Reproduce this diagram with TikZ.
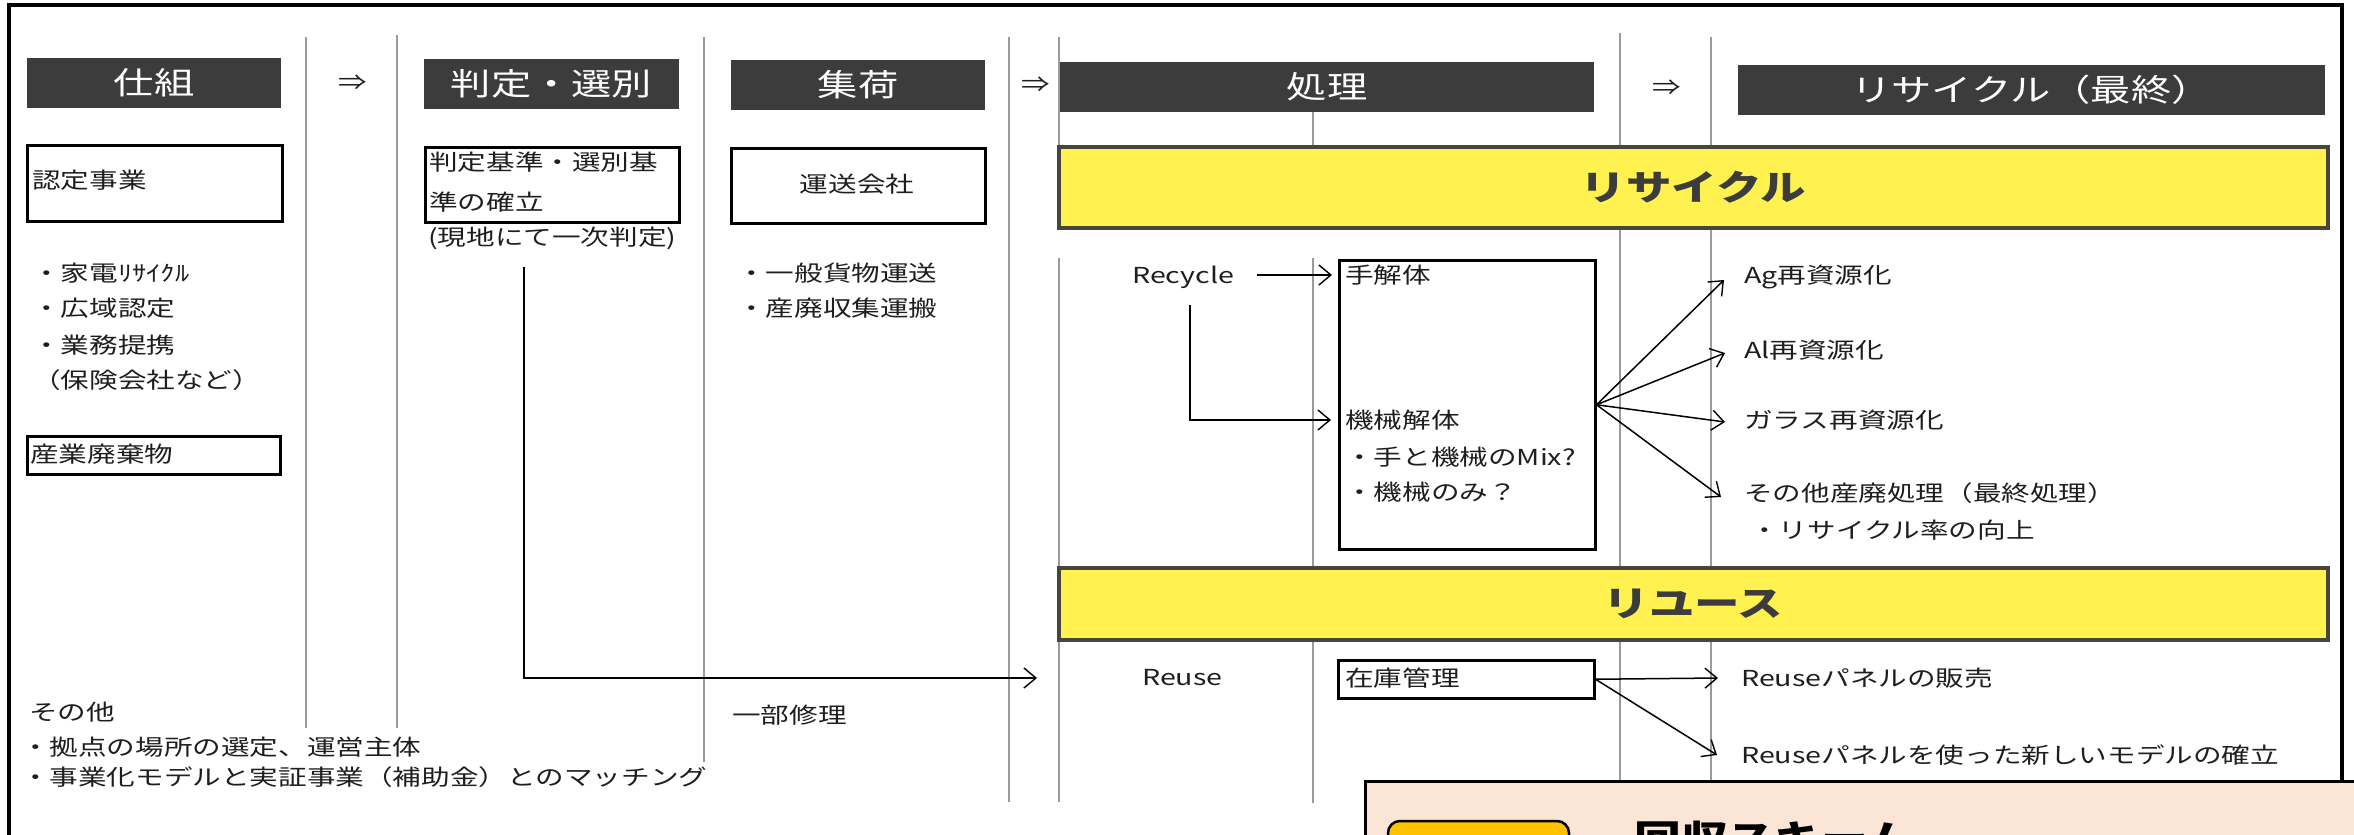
\documentclass[tikz,border=0pt]{standalone}
\usepackage{fontspec}
\setmainfont{Noto Sans CJK JP}[FakeStretch=1.3]
\usetikzlibrary{arrows.meta}
\newcommand\fsz[1]{\fontsize{#1}{#1}\selectfont}
\definecolor{hdr}{RGB}{60,60,60}
\definecolor{ylw}{RGB}{255,242,80}
\definecolor{ylwb}{RGB}{70,70,60}
\definecolor{peach}{RGB}{251,229,214}
\definecolor{orng}{RGB}{255,192,0}
\definecolor{vline}{RGB}{155,155,155}
\definecolor{ink}{RGB}{30,30,30}
\tikzset{
 txt/.style={anchor=west, inner sep=0pt, font=\fsz{22}, text=ink, text height=18pt, text depth=2pt},
 hdrbox/.style={fill=hdr, text=white, inner sep=0pt, font=\fsz{31}, text height=25pt, text depth=3pt},
 sym/.style={inner sep=0pt, font=\fsz{22}, text=ink, text height=18pt, text depth=2pt},
 box/.style={draw=black, line width=2.5pt, inner sep=0pt, anchor=north west},
 col/.style={draw=vline, line width=1.1pt},
 arr/.style={draw=black, line width=1.5pt, -{Straight Barb[length=12pt,width=20pt,line width=1.4pt]}},
 band/.style={fill=ylw, draw=ylwb, line width=3.5pt, font=\fsz{35}\bfseries, text=hdr, inner sep=0pt, text height=28pt, text depth=3pt, minimum width=1269pt},
}
\begin{document}
\begin{tikzpicture}[x=1pt,y=-1pt]
\useasboundingbox (0,0) rectangle (2354,835);
\clip (0,0) rectangle (2354,835);
\fill[white] (0,0) rectangle (2354,835);
% column lines
\draw[col] (306,37) -- (306,728);
\draw[col] (397,35) -- (397,728);
\draw[col] (704,37) -- (704,762);
\draw[col] (1009,37) -- (1009,802);
\draw[col] (1059,37) -- (1059,227);
\draw[col] (1059,258) -- (1059,802);
\draw[col] (1313,108) -- (1313,227);
\draw[col] (1313,258) -- (1313,803);
\draw[col] (1620,33) -- (1620,781);
\draw[col] (1711,37) -- (1711,781);
% frame
\draw[line width=4pt] (9,850) -- (9,5) -- (2342,5) -- (2342,781);
% headers
\node[hdrbox, minimum width=254pt, minimum height=50pt] (h1) at (154,83) {仕組};
\node[hdrbox, minimum width=255pt, minimum height=50pt] (h2) at (551.5,84) {判定・選別};
\node[hdrbox, minimum width=254pt, minimum height=50pt] (h3) at (858,85) {集荷};
\node[hdrbox, minimum width=534pt, minimum height=50pt] (h4) at (1327,87) {処理};
\node[hdrbox, minimum width=587pt, minimum height=50pt] (h5) at (2031.5,90) {リサイクル（最終）};
\node[sym] (a1) at (353,82) {⇒};
\node[sym] (a2) at (1036,84) {⇒};
\node[sym] (a3) at (1667,87) {⇒};
% yellow bands
\node[band, minimum height=81pt] (y1) at (1693.5,187.5) {リサイクル};
\node[band, minimum height=72pt] (y2) at (1693.5,604) {リユース};
% column 1
\node[box, minimum width=255pt, minimum height=76pt] (b1) at (26,144) {};
\node[txt] (t1) at (32,180) {認定事業};
\node[txt] (t2) at (32,273) {・家電ﾘｻｲｸﾙ};
\node[txt] (t3) at (32,308) {・広域認定};
\node[txt] (t4) at (32,345) {・業務提携};
\node[txt] (t5) at (32,380) {（保険会社など）};
\node[box, minimum width=253pt, minimum height=38pt] (b2) at (26,435) {};
\node[txt] (t6) at (30,454) {産業廃棄物};
\node[txt] (t7) at (29,712) {その他};
\node[txt] (t8) at (21,747) {・拠点の場所の選定、運営主体};
\node[txt] (t9) at (21,777) {・事業化モデルと実証事業（補助金）とのマッチング};
% column 2
\node[box, minimum width=254pt, minimum height=75pt] (b3) at (424,146) {};
\node[txt] (s1) at (429,162) {判定基準・選別基};
\node[txt] (s2) at (429,202) {準の確立};
\node[txt] (genchi) at (428,237) {(現地にて一次判定)};
% column 3
\node[box, minimum width=254pt, minimum height=75pt] (b4) at (730,147) {};
\node[sym] (u1) at (857,184) {運送会社};
\node[txt] (u2) at (737,273) {・一般貨物運送};
\node[txt] (u3) at (737,308) {・産廃収集運搬};
\node[txt] (u4) at (732,715) {一部修理};
% processing
\node[txt] (recycle) at (1132,275) {Recycle};
\node[box, minimum width=256pt, minimum height=289pt] (b5) at (1338,259) {};
\node[txt] (tekai) at (1345,275) {手解体};
\node[txt] (kikai) at (1345,420) {機械解体};
\node[txt] (k1) at (1345,457) {・手と機械のMix?};
\node[txt] (k2) at (1345,492) {・機械のみ？};
\node[txt] (reuse) at (1142,677) {Reuse};
\node[box, minimum width=256pt, minimum height=38pt] (b6) at (1337,659) {};
\node[txt] (zaiko) at (1345,678) {在庫管理};
% recycling results
\node[txt] (ag) at (1744,275) {Ag再資源化};
\node[txt] (al) at (1744,350) {Al再資源化};
\node[txt] (gl) at (1744,420) {ガラス再資源化};
\node[txt] (ot) at (1744,493) {その他産廃処理（最終処理）};
\node[txt] (rr) at (1750,530) {・リサイクル率の向上};
\node[txt] (sale) at (1741,678) {Reuseパネルの販売};
\node[txt] (model) at (1741,755) {Reuseパネルを使った新しいモデルの確立};
% connectors
\coordinate (g1) at (524,267);
\coordinate (g2) at (1037,678);
\draw[arr] (g1) |- (g2);
\draw[arr] (1257,275) -- ([xshift=-6pt]b5.west |- tekai.west);
\coordinate (r1) at (1190,305);
\draw[arr] (r1) |- ([xshift=-7pt]b5.west |- kikai.west);
\coordinate (f1) at (1724,280);
\coordinate (f2) at (1725,353);
\coordinate (f3) at (1725,422);
\coordinate (f4) at (1721,497);
\draw[arr] (b5.east) -- (f1);
\draw[arr] (b5.east) -- (f2);
\draw[arr] (b5.east) -- (f3);
\draw[arr] (b5.east) -- (f4);
\draw[arr] (b6.east) -- ([xshift=-23pt]sale.west);
\draw[arr] (b6.east) -- ([xshift=-24pt]model.west);
% bottom panel
\draw[line width=3pt, fill=peach] (1365,781) rectangle (2370,860);
\draw[line width=2.5pt, fill=orng, rounded corners=12pt] (1388,821) rectangle (1569,880);
\node[anchor=base west, inner sep=0pt, font=\fsz{36}\bfseries, text=black] (scheme) at (1634,851) {回収スキーム};
\end{tikzpicture}
\end{document}
